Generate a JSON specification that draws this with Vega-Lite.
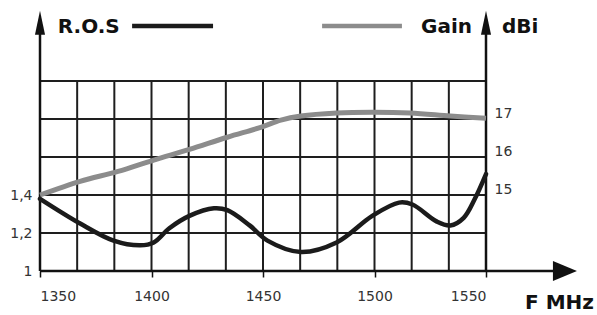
{
  "$schema": "https://vega.github.io/schema/vega-lite/v6.json",
  "width": 446,
  "height": 190,
  "autosize": {"type": "none"},
  "padding": {"left": 40, "top": 81, "right": 111, "bottom": 44},
  "background": "white",
  "config": {"view": {"stroke": null}, "font": "DejaVu Sans"},
  "resolve": {"scale": {"y": "independent"}},
  "layer": [
    {
      "layer": [
        {
          "data": {"values": [
            {"f": 1366.667}, {"f": 1383.333}, {"f": 1400}, {"f": 1416.667}, {"f": 1433.333}, {"f": 1450},
            {"f": 1466.667}, {"f": 1483.333}, {"f": 1500}, {"f": 1516.667}, {"f": 1533.333}
          ]},
          "mark": {"type": "rule", "stroke": "#1e1e1e", "strokeWidth": 2},
          "encoding": {"x": {"field": "f", "type": "quantitative"}}
        },
        {
          "data": {"values": [{"r": 1.2}, {"r": 1.4}, {"r": 1.6}, {"r": 1.8}, {"r": 2.0}]},
          "mark": {"type": "rule", "stroke": "#1e1e1e", "strokeWidth": 2},
          "encoding": {"y": {"field": "r", "type": "quantitative"}}
        },
        {
          "data": {"values": [
            {"f": 1350, "r": 1, "f2": 1350, "r2": 2.25},
            {"f": 1550, "r": 1, "f2": 1550, "r2": 2.25},
            {"f": 1350, "r": 1, "f2": 1585, "r2": 1}
          ]},
          "mark": {"type": "rule", "stroke": "#111", "strokeWidth": 2.5},
          "encoding": {
            "x": {"field": "f", "type": "quantitative"},
            "x2": {"field": "f2"},
            "y": {"field": "r", "type": "quantitative"},
            "y2": {"field": "r2"}
          }
        },
        {
          "data": {"values": [{"f": 1350, "r": 2.306}, {"f": 1550, "r": 2.306}]},
          "mark": {"type": "point", "filled": true, "shape": "M0,-1L0.42,1L-0.42,1Z", "size": 576, "color": "#111", "opacity": 1, "strokeWidth": 0},
          "encoding": {
            "x": {"field": "f", "type": "quantitative"},
            "y": {"field": "r", "type": "quantitative"}
          }
        },
        {
          "data": {"values": [{"f": 1585.4, "r": 1.0}]},
          "mark": {"type": "point", "filled": true, "shape": "M1,0L-1,0.83L-1,-0.83Z", "size": 576, "color": "#111", "opacity": 1, "strokeWidth": 0},
          "encoding": {
            "x": {"field": "f", "type": "quantitative"},
            "y": {"field": "r", "type": "quantitative"}
          }
        },
        {
          "data": {"values": [
            {"f": 1391.3, "r": 2.29, "f2": 1427.6, "c": "ros"},
            {"f": 1476.5, "r": 2.29, "f2": 1512.3, "c": "gain"}
          ]},
          "mark": {"type": "rule", "strokeWidth": 4.5},
          "encoding": {
            "x": {"field": "f", "type": "quantitative"},
            "x2": {"field": "f2"},
            "y": {"field": "r", "type": "quantitative"},
            "color": {"field": "c", "type": "nominal", "scale": {"domain": ["ros", "gain"], "range": ["#1b1b1b", "#8c8c8c"]}, "legend": null}
          }
        },
        {
          "data": {"values": [
            {"f": 1358, "r": 2.285, "t": "R.O.S"},
            {"f": 1520.9, "r": 2.285, "t": "Gain"},
            {"f": 1557.2, "r": 2.285, "t": "dBi"},
            {"f": 1567.5, "r": 0.829, "t": "F MHz"}
          ]},
          "mark": {"type": "text", "align": "left", "baseline": "middle", "fontSize": 20, "fontWeight": "bold", "font": "DejaVu Sans", "color": "#111"},
          "encoding": {
            "x": {"field": "f", "type": "quantitative"},
            "y": {"field": "r", "type": "quantitative"},
            "text": {"field": "t"}
          }
        },
        {
          "data": {"values": [
            {"f": 1350, "r": 1.38}, {"f": 1368, "r": 1.25}, {"f": 1383, "r": 1.16}, {"f": 1395, "r": 1.135},
            {"f": 1401, "r": 1.15}, {"f": 1408, "r": 1.225}, {"f": 1417, "r": 1.29}, {"f": 1428, "r": 1.33},
            {"f": 1434, "r": 1.32}, {"f": 1444, "r": 1.24}, {"f": 1452, "r": 1.16}, {"f": 1467, "r": 1.1},
            {"f": 1483, "r": 1.15}, {"f": 1499, "r": 1.29}, {"f": 1511, "r": 1.36}, {"f": 1517, "r": 1.35},
            {"f": 1528, "r": 1.26}, {"f": 1534, "r": 1.24}, {"f": 1540, "r": 1.28}, {"f": 1545, "r": 1.38},
            {"f": 1550, "r": 1.51}
          ]},
          "mark": {"type": "line", "interpolate": "catmull-rom", "stroke": "#1b1b1b", "strokeWidth": 4.5, "strokeCap": "round"},
          "encoding": {
            "x": {
              "field": "f", "type": "quantitative",
              "scale": {"domain": [1350, 1550], "nice": false, "zero": false},
              "axis": {"values": [1350, 1400, 1450, 1500, 1550], "title": null, "domain": false, "ticks": true, "tickSize": 6, "tickColor": "#111", "tickWidth": 1.5, "grid": false, "labelFontSize": 14, "labelColor": "#333", "labelPadding": 12, "labelFont": "DejaVu Sans", "format": "d"}
            },
            "y": {
              "field": "r", "type": "quantitative",
              "scale": {"domain": [1, 2], "nice": false, "zero": false},
              "axis": {"values": [1, 1.2, 1.4], "title": null, "domain": false, "ticks": false, "grid": false, "labelFontSize": 14, "labelColor": "#333", "labelPadding": 8, "labelFont": "DejaVu Sans", "labelExpr": "datum.value == 1 ? '1' : replace(format(datum.value, '.1f'), '.', ',')"}
            }
          }
        }
      ]
    },
    {
      "data": {"values": [
        {"f": 1350, "g": 15.0}, {"f": 1368, "g": 15.36}, {"f": 1385, "g": 15.62}, {"f": 1401, "g": 15.92},
        {"f": 1417, "g": 16.2}, {"f": 1434, "g": 16.52}, {"f": 1449, "g": 16.78}, {"f": 1458, "g": 16.97},
        {"f": 1467, "g": 17.08}, {"f": 1483, "g": 17.16}, {"f": 1499, "g": 17.18}, {"f": 1516, "g": 17.16},
        {"f": 1534, "g": 17.08}, {"f": 1550, "g": 17.02}
      ]},
      "mark": {"type": "line", "interpolate": "catmull-rom", "stroke": "#8c8c8c", "strokeWidth": 5},
      "encoding": {
        "x": {"field": "f", "type": "quantitative"},
        "y": {
          "field": "g", "type": "quantitative",
          "scale": {"domain": [13, 18], "nice": false, "zero": false},
          "axis": {"orient": "right", "values": [15, 16, 17], "title": null, "domain": false, "ticks": false, "grid": false, "labelFontSize": 14, "labelColor": "#333", "labelPadding": 8, "labelOffset": -6, "labelFont": "DejaVu Sans"}
        }
      }
    }
  ]
}
